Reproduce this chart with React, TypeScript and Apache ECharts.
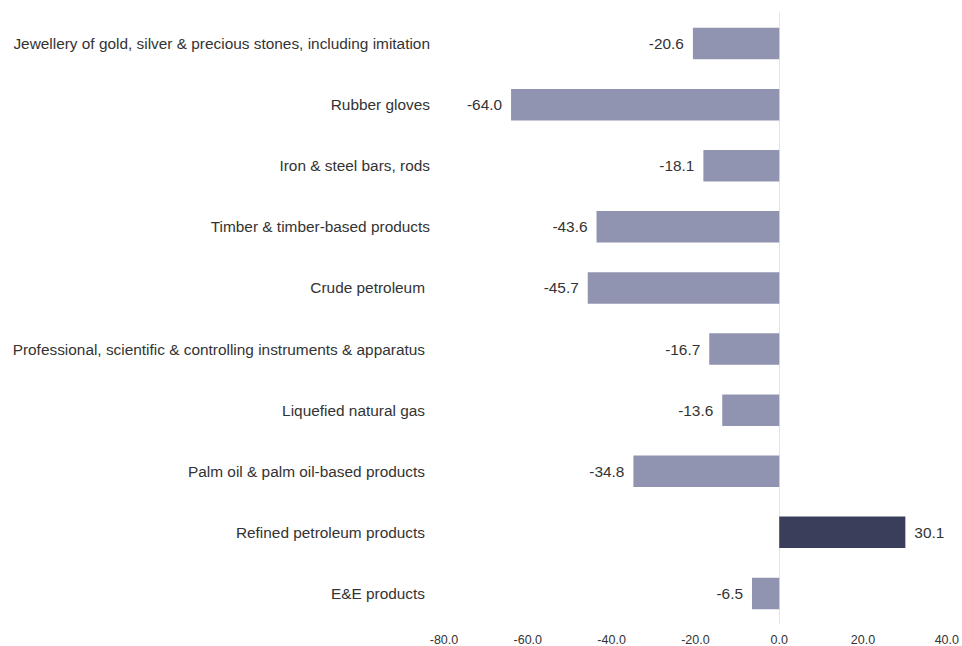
import React, { useEffect, useRef } from "react";
import * as echarts from "echarts";

const categories = [
  "Jewellery of gold, silver & precious stones, including imitation",
  "Rubber gloves",
  "Iron & steel bars, rods",
  "Timber & timber-based products",
  "Crude petroleum",
  "Professional, scientific & controlling instruments & apparatus",
  "Liquefied natural gas",
  "Palm oil & palm oil-based products",
  "Refined petroleum products",
  "E&E products",
];
const values = [-20.6, -64.0, -18.1, -43.6, -45.7, -16.7, -13.6, -34.8, 30.1, -6.5];
const xTicks = { min: -80, max: 40, interval: 20 };
const paddedLabels = [4, 5, 6, 7, 8, 9];

const FONT = "Liberation Sans, Arial, sans-serif";

export default function App() {
  const ref = useRef<HTMLDivElement>(null);
  useEffect(() => {
    if (!ref.current) return;
    const chart = echarts.init(ref.current, null, { renderer: "svg" });
    chart.setOption({
      animation: false,
      grid: { left: 444, right: 13, top: 13, bottom: 17, containLabel: false },
      xAxis: {
        type: "value",
        min: xTicks.min,
        max: xTicks.max,
        interval: xTicks.interval,
        axisLine: { show: false },
        axisTick: { show: false },
        splitLine: { show: false },
        axisLabel: {
          formatter: (v: number) => v.toFixed(1),
          color: "#333",
          fontSize: 12.5,
          fontFamily: FONT,
          margin: 9,
        },
      },
      yAxis: {
        type: "category",
        inverse: true,
        data: categories.map((c, i) => ({
          value: c,
          textStyle: paddedLabels.includes(i) ? { padding: [0, 5, 0, 0] } : {},
        })),
        axisLine: { show: true, onZero: true, lineStyle: { color: "#e3e3e3", width: 1 } },
        axisTick: { show: false },
        splitLine: { show: false },
        axisLabel: {
          color: "#333",
          fontSize: 15.4,
          fontFamily: FONT,
          margin: 14,
        },
      },
      series: [
        {
          type: "bar",
          barWidth: 31.5,
          data: values.map((v) => ({
            value: v,
            itemStyle: { color: v >= 0 ? "#3b3e5b" : "#9194b0" },
            label: { position: v >= 0 ? "right" : "left" },
          })),
          label: {
            show: true,
            formatter: (p: any) => Number(p.value).toFixed(1),
            color: "#333",
            fontSize: 15.4,
            fontFamily: FONT,
            distance: 9,
          },
        },
      ],
    });
    return () => chart.dispose();
  }, []);
  return <div ref={ref} style={{ width: 962, height: 646, position: "absolute", left: 0, top: 0 }} />;
}
